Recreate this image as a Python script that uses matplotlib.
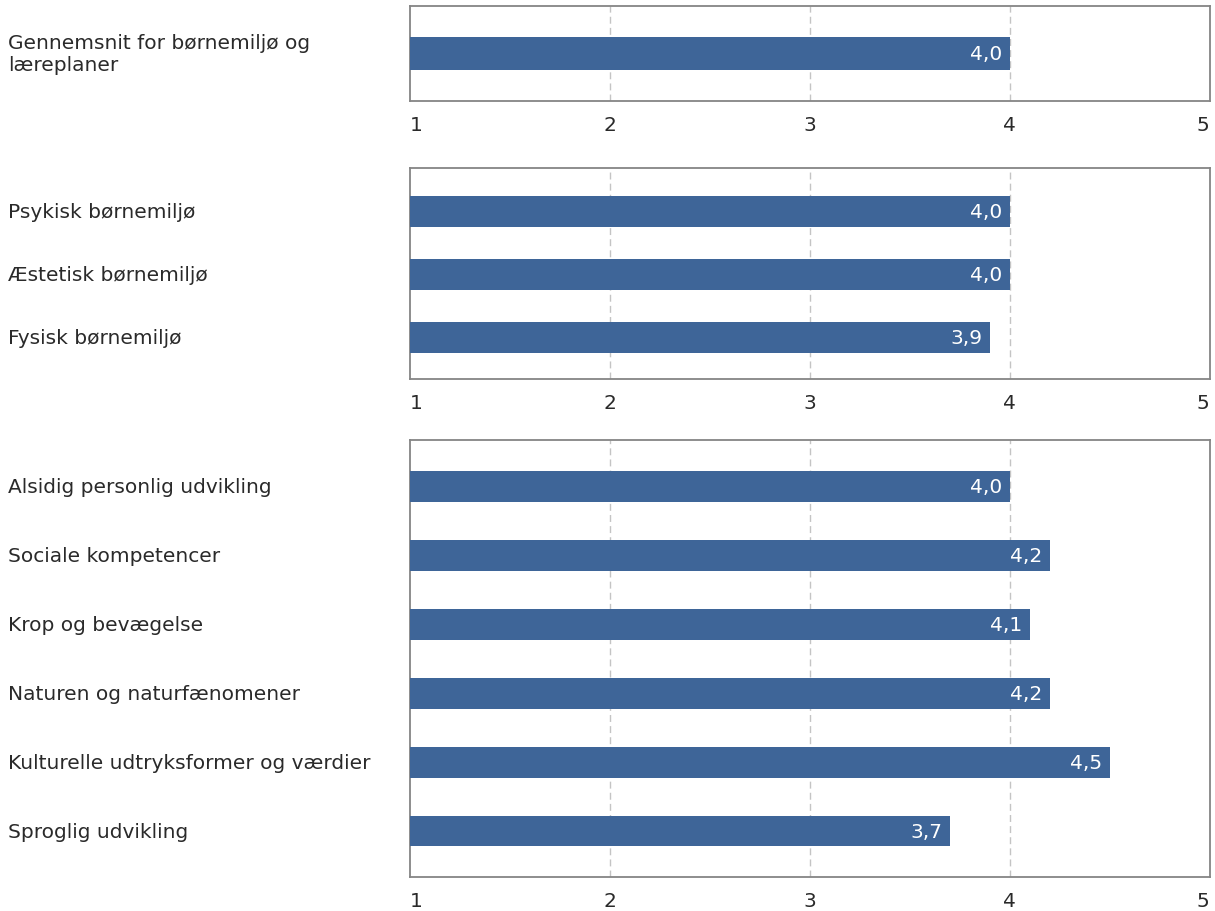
import matplotlib
matplotlib.use("Agg")
import matplotlib.pyplot as plt
from matplotlib.transforms import blended_transform_factory

# ---- data ----
cats1 = ["Gennemsnit for børnemiljø og\nlæreplaner"]
vals1 = [4.0]
cats2 = ["Psykisk børnemiljø", "Æstetisk børnemiljø", "Fysisk børnemiljø"]
vals2 = [4.0, 4.0, 3.9]
cats3 = ["Alsidig personlig udvikling", "Sociale kompetencer", "Krop og bevægelse",
         "Naturen og naturfænomener", "Kulturelle udtryksformer og værdier",
         "Sproglig udvikling"]
vals3 = [4.0, 4.2, 4.1, 4.2, 4.5, 3.7]
xticks = [1, 2, 3, 4, 5]

BAR = "#3e6598"
FRAME = "#858585"
GRID = "#c4c4c4"
TXT = "#2a2a2a"
FS = 14.5

W, H = 1215, 912
fig = plt.figure(figsize=(W / 100, H / 100), dpi=100)
fig.patch.set_facecolor("white")

left_px, right_px = 409.5, 1209.5
panels = [
    (7.3, 101.7, cats1, vals1, 0.35, 0.5, 0.5),
    (169.3, 380.0, cats2, vals2, 0.49, 0.69, 0.66),
    (441.0, 878.3, cats3, vals3, 0.445, 0.675, 0.67),
]

for top, bot, cats, vals, bh, ptop, pbot in panels:
    ax = fig.add_axes([left_px / W, 1 - bot / H, (right_px - left_px) / W, (bot - top) / H])
    n = len(cats)
    ys = list(range(n))
    ax.barh(ys, [v - 1 for v in vals], left=1, height=bh, color=BAR, zorder=3)
    ax.set_xlim(1, 5)
    ax.set_ylim(n - 1 + pbot, -ptop)
    ax.set_yticks([])
    ax.set_xticks(xticks)
    ax.set_xticklabels([str(t) for t in xticks], fontsize=FS, color=TXT)
    tl = ax.get_xticklabels()
    tl[0].set_horizontalalignment("left")
    tl[-1].set_horizontalalignment("right")
    ax.tick_params(axis="x", length=0, pad=10)
    for t in xticks[1:-1]:
        ax.axvline(t, color=GRID, linestyle=(0, (5, 3)), linewidth=1.0, zorder=1)
    for s in ax.spines.values():
        s.set_color(FRAME)
        s.set_linewidth(1.3)
    for y, v in zip(ys, vals):
        ax.annotate(f"{v:.1f}".replace(".", ","), xy=(v, y), xytext=(-5, 0),
                    textcoords="offset points", ha="right", va="center",
                    color="white", fontsize=FS, zorder=4)
    tr = blended_transform_factory(fig.transFigure, ax.transData)
    for y, c in zip(ys, cats):
        ax.text(8 / W, y, c, transform=tr, ha="left", va="center",
                fontsize=FS, color=TXT, linespacing=1.2)

fig.savefig("out.png", dpi=100, facecolor="white")
